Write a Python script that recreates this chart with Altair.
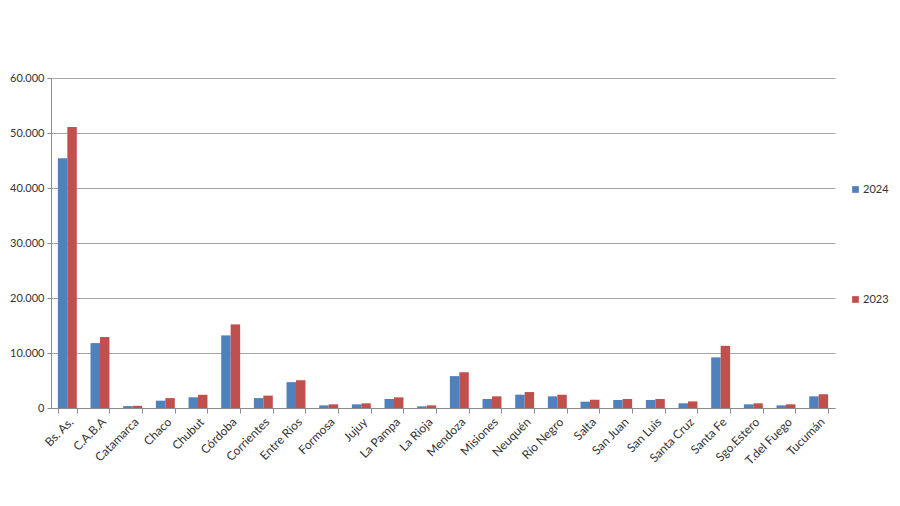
import altair as alt
import pandas as pd

provincias = ["Bs. As.", "C.A.B.A", "Catamarca", "Chaco", "Chubut", "Córdoba", "Corrientes",
              "Entre Rios", "Formosa", "Jujuy", "La Pampa", "La Rioja", "Mendoza", "Misiones",
              "Neuquén", "Río Negro", "Salta", "San Juan", "San Luis", "Santa Cruz", "Santa Fe",
              "Sgo.Estero", "T.del Fuego", "Tucumán"]
v2024 = [45400, 11800, 350, 1330, 1950, 13200, 1800, 4700, 480, 670, 1640, 300, 5800, 1640,
         2420, 2120, 1150, 1450, 1450, 850, 9200, 670, 480, 2120]
v2023 = [51100, 12900, 400, 1800, 2400, 15200, 2250, 5050, 670, 850, 1940, 480, 6500, 2120,
         2900, 2420, 1500, 1640, 1640, 1200, 11300, 850, 670, 2500]
series = ["2024", "2023"]
colors = ["#4F81BD", "#C0504D"]

rows = []
for i, p in enumerate(provincias):
    rows.append({"prov": p, "serie": "2024", "valor": v2024[i]})
    rows.append({"prov": p, "serie": "2023", "valor": v2023[i]})
df = pd.DataFrame(rows)

FONT = "Lato"

chart = alt.Chart(df).mark_bar().encode(
    x=alt.X("prov:N", sort=provincias, title=None,
            scale=alt.Scale(paddingInner=0.42, paddingOuter=0.21),
            axis=alt.Axis(labelAngle=-45, labelAlign="right", labelBaseline="top",
                          labelFontSize=12, labelColor="#333333", labelFont=FONT,
                          tickBand="extent", tickSize=5, tickColor="#8c8c8c",
                          domainColor="#8c8c8c", labelPadding=3)),
    xOffset=alt.XOffset("serie:N", sort=series),
    y=alt.Y("valor:Q", title=None,
            scale=alt.Scale(domain=[0, 60000], nice=False),
            axis=alt.Axis(values=[0, 10000, 20000, 30000, 40000, 50000, 60000],
                          labelExpr="replace(format(datum.value, ','), ',', '.')",
                          labelFontSize=11, labelColor="#333333", labelFont=FONT,
                          tickSize=4, tickColor="#8c8c8c", domainColor="#8c8c8c",
                          gridColor="#a6a6a6", labelPadding=3)),
    color=alt.Color("serie:N", sort=series,
                    scale=alt.Scale(domain=series, range=colors),
                    legend=alt.Legend(title=None, orient="none", legendX=799, legendY=106,
                                      direction="vertical", rowPadding=98,
                                      symbolType="square", symbolSize=45,
                                      symbolStrokeWidth=0,
                                      labelFontSize=11, labelFont=FONT,
                                      labelColor="#333333", labelOffset=2)),
).properties(
    width=784, height=330,
    autosize=alt.AutoSizeParams(type="none"),
    padding={"left": 43, "top": 70, "right": 56, "bottom": 80},
).configure_view(strokeWidth=0)

chart.save("out.html", embed_options={"renderer": "svg", "actions": False})
